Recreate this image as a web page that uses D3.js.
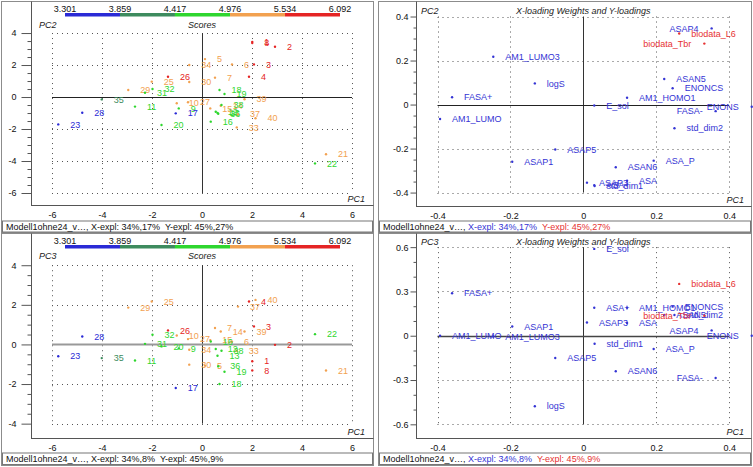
<!DOCTYPE html>
<html><head><meta charset="utf-8">
<script src="https://cdn.jsdelivr.net/npm/d3@7"></script>
<style>
body{margin:0;background:#fff;}
svg{display:block;font-family:"Liberation Sans",Arial,sans-serif;}
</style></head><body>
<svg id="c" width="753" height="467"></svg>
<script>
// ---------------- DATA ----------------
const sampleIds = ["1","2","3","4","5","6","7","8","9","10","11","12","13","14","15","16","17","18","19","20","21","22","23","25","26","27","28","29","30","31","32","33","34","35","36","37","38","39","40"];
const scorePC1 = [2.01,2.92,2.08,1.88,0.12,1.2,0.52,2.01,-0.93,-1.01,-2.68,0.55,0.62,0.75,0.33,0.35,-1.05,0.7,0.9,-1.62,4.96,4.52,-5.75,-2.01,-1.36,-0.56,-4.79,-2.95,-0.51,-2.28,-1.98,1.39,-0.51,-4.01,0.65,1.44,0.78,1.7,2.14];
const scorePC2 = [3.45,3.14,2.04,1.27,2.37,2.04,1.21,3.38,-0.71,-0.39,-0.6,-0.92,-1.0,-0.55,-0.71,-1.54,-1.02,0.44,0.19,-1.75,-3.58,-4.15,-1.71,0.96,1.27,-0.33,-0.98,0.44,0.94,0.27,0.5,-1.9,2.0,-0.15,-1.05,-1.08,-0.5,-0.14,-1.33];
const scorePC3 = [-0.85,-0.02,0.91,2.17,-1.07,0.14,0.83,-1.31,-0.2,0.45,-0.81,-0.23,-0.57,0.65,0.22,0.15,-2.2,-2.0,-1.38,-0.1,-1.32,0.52,-0.6,2.17,0.71,0.27,0.4,1.86,-1.02,0.03,0.49,-0.32,-0.27,-0.69,-1.1,1.91,-0.32,0.65,2.25];
// response class of each sample (index into colour bar segments)
const sampleClass = [4,4,4,4,3,3,3,4,2,3,2,2,2,3,3,2,0,2,2,2,3,2,0,3,4,3,0,3,3,2,2,3,3,1,2,3,2,3,3];
const classColors = ["#2a2ad6","#3d8b5e","#2ed62e","#f2a150","#e52424"];
const colorBarTicks = [3.301,3.859,4.417,4.976,5.534,6.092];

const varNames = ["AM1_LUMO3","logS","FASA+","AM1_LUMO","E_sol","AM1_HOMO1","ASAN5","ENONCS","FASA-","ENONS","std_dim2","ASAP5","ASAP1","ASA_P","ASAN6","ASA","ASAP3","std_dim1","ASA+","ASAP4","biodata_L6","biodata_Tbr"];
const varIsY   = [0,0,0,0,0,0,0,0,0,0,0,0,0,0,0,0,0,0,0,0,1,1];
const loadPC1  = [-0.247,-0.133,-0.36,-0.393,0.03,0.12,0.222,0.245,0.363,0.462,0.25,-0.077,-0.195,0.193,0.089,0.12,0.01,0.031,0.03,0.352,0.263,0.332];
const loadPC2  = [0.217,0.096,0.033,-0.066,-0.004,0.031,0.116,0.074,-0.03,-0.01,-0.108,-0.204,-0.26,-0.255,-0.285,-0.346,-0.355,-0.37,-0.366,0.346,0.323,0.277];
const loadPC3  = [-0.005,-0.478,0.288,0.0,0.588,0.19,0.14,0.197,-0.286,0.0,0.14,-0.151,0.063,-0.09,-0.241,0.086,0.09,-0.054,0.19,0.036,0.351,0.135];
const loadColors = ["#3434d4","#e63232"];

const scoreXTicks = [-6,-4,-2,0,2,4,6];
const pc2ScoreTicks = [-6,-4,-2,0,2,4];
const pc3ScoreTicks = [-4,-2,0,2,4];
const loadXTicks = [-0.4,-0.2,0,0.2,0.4];
const pc2LoadTicks = [-0.4,-0.2,0,0.2,0.4];
const pc3LoadTicks = [-0.6,-0.3,0,0.3,0.6];

const footerName = "Modell1ohne24_v\u2026, ";
const xExpl = ["X-expl: 34%,17%","X-expl: 34%,8%"];
const yExpl = ["Y-expl: 45%,27%","Y-expl: 45%,9%"];

// ---------------- DRAW ----------------
const svg = d3.select("#c");
const FS = 9;

function panel(cfg){
  const g = svg.append("g");
  const P = cfg.plot;
  const x = d3.scaleLinear().domain(cfg.xDomain).range([P.l, P.r]);
  const y = d3.scaleLinear().domain(cfg.yDomain).range([P.b, P.t]);
  const B = cfg.box;
  g.append("rect").attr("x",B[0]+0.5).attr("y",B[1]+0.5).attr("width",B[2]).attr("height",B[3])
    .attr("fill","#fff").attr("stroke","#8c8c8c");

  const gx = cfg.xTicks, gy = cfg.yTicks;
  const gxMin = d3.min(gx), gxMax = d3.max(gx), gyMin = d3.min(gy), gyMax = d3.max(gy);
  // dotted grid
  gx.filter(v=>v!==0).forEach(v=>{
    g.append("line").attr("x1",Math.round(x(v))+0.5).attr("x2",Math.round(x(v))+0.5)
      .attr("y1",y(gyMax)).attr("y2",y(gyMin)).attr("stroke","#555").attr("stroke-dasharray","1,4");
  });
  gy.filter(v=>v!==0).forEach(v=>{
    g.append("line").attr("y1",Math.round(y(v))+0.5).attr("y2",Math.round(y(v))+0.5)
      .attr("x1",x(gxMin)).attr("x2",x(gxMax)).attr("stroke","#555").attr("stroke-dasharray","1,4");
  });
  // zero lines
  g.append("line").attr("x1",Math.round(x(0))+0.5).attr("x2",Math.round(x(0))+0.5)
    .attr("y1",y(gyMax)).attr("y2",y(gyMin)).attr("stroke","#333").attr("stroke-width",1);
  g.append("line").attr("y1",Math.round(y(0))+0.5).attr("y2",Math.round(y(0))+0.5)
    .attr("x1",x(gxMin)).attr("x2",x(gxMax)).attr("stroke",cfg.zeroColor).attr("stroke-width",cfg.zeroWidth);

  // axes lines
  g.append("line").attr("x1",P.l+0.5).attr("x2",P.l+0.5).attr("y1",B[1]+0.5).attr("y2",P.b+0.5).attr("stroke","#555");
  g.append("line").attr("x1",P.l).attr("x2",B[0]+B[2]+0.5).attr("y1",P.b+0.5).attr("y2",P.b+0.5).attr("stroke","#555");

  // y axis ticks
  const ya = g.append("g").attr("transform",`translate(${P.l+0.5},0)`)
    .call(d3.axisLeft(y).tickValues(gy).tickSize(cfg.majLen).tickPadding(cfg.pad).tickFormat(d=>String(d)));
  const minors = d3.range(gyMin, gyMax+1e-9, cfg.minorStep).filter(v=>!gy.some(m=>Math.abs(m-v)<1e-9));
  const ym = g.append("g").attr("transform",`translate(${P.l+0.5},0)`)
    .call(d3.axisLeft(y).tickValues(minors).tickSize(cfg.minLen).tickFormat(""));
  [ya,ym].forEach(a=>{a.select(".domain").remove(); a.selectAll("line").attr("stroke","#555");});
  ya.selectAll("text").attr("font-size",FS).attr("fill","#111").attr("font-family","Liberation Sans, Arial, sans-serif");

  // x axis labels
  const xa = g.append("g").attr("transform",`translate(0,${P.b+0.5})`)
    .call(d3.axisBottom(x).tickValues(gx).tickSize(0).tickPadding(6).tickFormat(d=>String(d)));
  xa.select(".domain").remove();
  xa.selectAll("text").attr("font-size",FS).attr("fill","#111").attr("font-family","Liberation Sans, Arial, sans-serif");

  // titles
  g.append("text").attr("x",cfg.pcX).attr("y",cfg.titleY).attr("font-size",FS).attr("font-style","italic").attr("fill","#222").text(cfg.yName);
  g.append("text").attr("x",x(0)).attr("y",cfg.titleY).attr("text-anchor","middle").attr("font-size",FS).attr("font-style","italic").attr("fill","#222").text(cfg.title);
  g.append("text").attr("x",P.r-7).attr("y",P.b-3).attr("text-anchor","end").attr("font-size",FS).attr("font-style","italic").attr("fill","#222").text("PC1");

  // colour bar
  if(cfg.colorBar){
    const cb = d3.scaleLinear().domain([colorBarTicks[0],colorBarTicks[colorBarTicks.length-1]]).range([65,340]);
    for(let i=0;i<colorBarTicks.length-1;i++){
      g.append("rect").attr("x",cb(colorBarTicks[i])).attr("y",B[1]+12).attr("width",cb(colorBarTicks[i+1])-cb(colorBarTicks[i]))
        .attr("height",3.5).attr("fill",classColors[i]);
    }
    colorBarTicks.forEach(v=>{
      g.append("text").attr("x",cb(v)).attr("y",B[1]+10.5).attr("text-anchor","middle").attr("font-size",FS).attr("fill","#111").text(v.toFixed(3));
    });
  }

  // points
  const pts = g.append("g");
  cfg.points.forEach(p=>{
    const px = x(p.x), py = y(p.y);
    pts.append("circle").attr("cx",px).attr("cy",py).attr("r",1.2).attr("fill",p.c);
    const t = pts.append("text").attr("x",px+12).attr("y",py).attr("dy","0.35em").attr("font-size",FS).attr("fill",p.c).text(p.label);
    const w = t.node().getComputedTextLength();
    if(px+12+w > P.r-3){ t.attr("x",px-13).attr("text-anchor","end"); }
  });

  // footer
  const F = cfg.footer;
  g.append("rect").attr("x",B[0]+1.5).attr("y",F.y+0.5).attr("width",B[2]-2).attr("height",F.h).attr("fill","#fff").attr("stroke","#777");
  const ft = g.append("text").attr("x",B[0]+5).attr("y",F.y+9).attr("font-size",FS).attr("fill","#111");
  F.parts.forEach(pt=>ft.append("tspan").attr("fill",pt.c).attr("xml:space","preserve").text(pt.t));
}

const scorePtsPC2 = sampleIds.map((id,i)=>({x:scorePC1[i],y:scorePC2[i],label:id,c:classColors[sampleClass[i]]}));
const scorePtsPC3 = sampleIds.map((id,i)=>({x:scorePC1[i],y:scorePC3[i],label:id,c:classColors[sampleClass[i]]}));
const loadPtsPC2 = varNames.map((n,i)=>({x:loadPC1[i],y:loadPC2[i],label:n,c:loadColors[varIsY[i]]}));
const loadPtsPC3 = varNames.map((n,i)=>({x:loadPC1[i],y:loadPC3[i],label:n,c:loadColors[varIsY[i]]}));

panel({box:[1,1,372,231], plot:{l:31,r:372,t:2,b:205}, xDomain:[-6.84,6.8], yDomain:[-6.75,5.94],
  xTicks:scoreXTicks, yTicks:pc2ScoreTicks, minorStep:0.5, majLen:10, minLen:4, pad:5,
  zeroColor:"#222", zeroWidth:1, yName:"PC2", title:"Scores", pcX:39, titleY:27.5, colorBar:true,
  points:scorePtsPC2,
  footer:{y:220.5,h:11,parts:[{t:footerName+xExpl[0]+"  "+yExpl[0],c:"#111"}]}});

panel({box:[378,1,373,231], plot:{l:416,r:751,t:2,b:206}, xDomain:[-0.459,0.46], yDomain:[-0.461,0.466],
  xTicks:loadXTicks, yTicks:pc2LoadTicks, minorStep:0.05, majLen:6, minLen:3, pad:2,
  zeroColor:"#222", zeroWidth:1, yName:"PC2", title:"X-loading Weights and Y-loadings", pcX:421, titleY:13.5, colorBar:false,
  points:loadPtsPC2,
  footer:{y:220.5,h:11,parts:[{t:footerName,c:"#111"},{t:xExpl[0]+"  ",c:loadColors[0]},{t:yExpl[0],c:loadColors[1]}]}});

panel({box:[1,233,372,232], plot:{l:31,r:372,t:234,b:438}, xDomain:[-6.84,6.8], yDomain:[-4.725,5.577],
  xTicks:scoreXTicks, yTicks:pc3ScoreTicks, minorStep:0.5, majLen:10, minLen:4, pad:5,
  zeroColor:"#999", zeroWidth:2, yName:"PC3", title:"Scores", pcX:39, titleY:259, colorBar:true,
  points:scorePtsPC3,
  footer:{y:452.5,h:11.5,parts:[{t:footerName+xExpl[1]+"  "+yExpl[1],c:"#111"}]}});

panel({box:[378,233,373,232], plot:{l:416,r:751,t:234,b:438}, xDomain:[-0.459,0.46], yDomain:[-0.6926,0.689],
  xTicks:loadXTicks, yTicks:pc3LoadTicks, minorStep:0.1, majLen:6, minLen:3, pad:2,
  zeroColor:"#444", zeroWidth:1.5, yName:"PC3", title:"X-loading Weights and Y-loadings", pcX:421, titleY:244.5, colorBar:false,
  points:loadPtsPC3,
  footer:{y:452.5,h:11.5,parts:[{t:footerName,c:"#111"},{t:xExpl[1]+"  ",c:loadColors[0]},{t:yExpl[1],c:loadColors[1]}]}});
</script>
</body></html>
